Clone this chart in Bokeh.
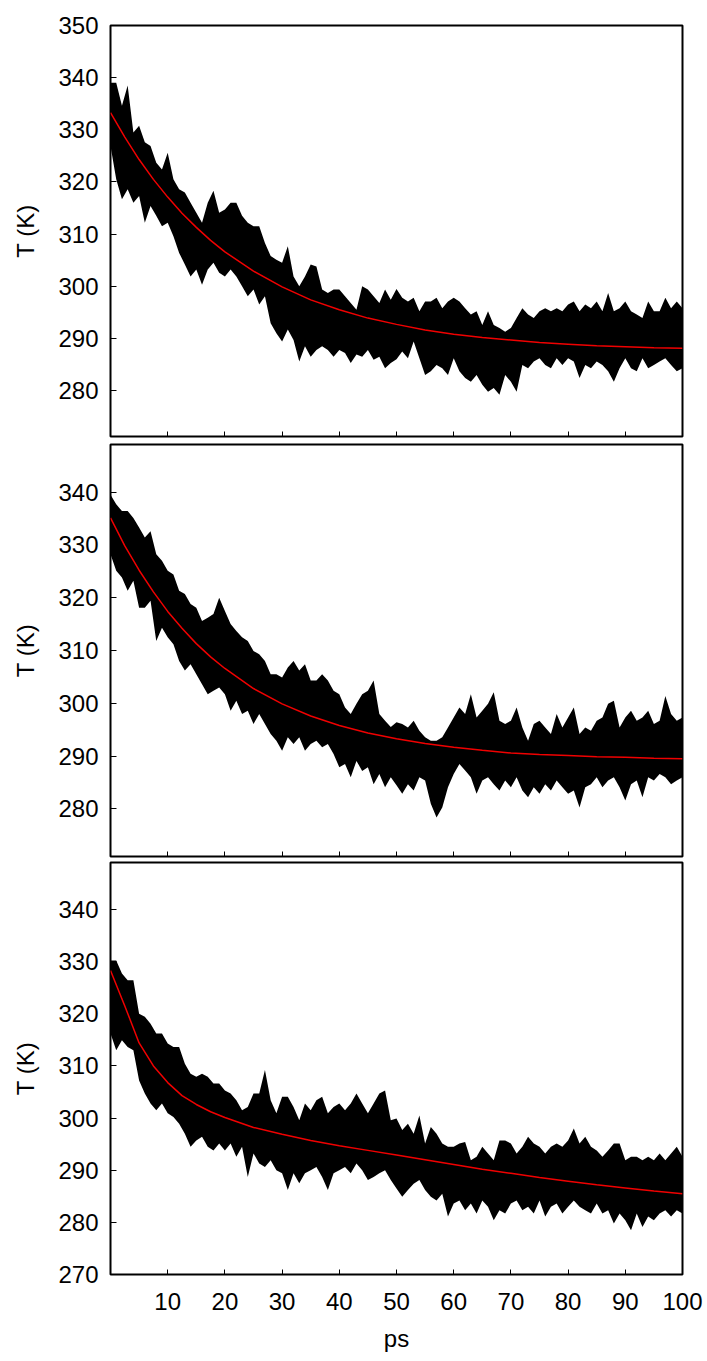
from bokeh.plotting import figure
from bokeh.layouts import column
from bokeh.models import Range1d, FixedTicker
from bokeh.embed import file_html
from bokeh.resources import INLINE

# time axis (ps) for the sampled envelope of the noisy trace
t = list(range(101))

# ---- panel 1 (top) : upper / lower envelope of the noisy T trace ----
hi1 = [339.0, 339.0, 334.6, 338.5, 329.5, 330.8, 327.6, 326.9, 323.7, 322.4,
       325.6, 320.5, 318.6, 318.0, 316.0, 314.1, 312.2, 316.0, 318.3, 314.1,
       314.7, 316.0, 316.0, 313.5, 312.2, 311.5, 311.5, 308.3, 305.8, 305.1,
       304.5, 307.7, 301.9, 300.0, 301.9, 304.2, 303.8, 299.4, 298.7, 299.4,
       299.4, 298.1, 296.8, 295.5, 300.0, 299.4, 298.1, 296.8, 299.4, 297.4,
       299.5, 297.8, 297.1, 297.8, 295.2, 297.1, 297.1, 297.8, 295.8, 297.1,
       297.8, 297.1, 295.8, 294.6, 295.2, 292.6, 295.2, 292.6, 292.0, 291.3,
       292.0, 293.9, 295.8, 294.6, 293.9, 295.2, 295.8, 295.2, 295.8, 295.2,
       296.5, 297.1, 295.2, 296.5, 295.8, 297.1, 295.2, 298.7, 295.2, 295.8,
       297.1, 295.2, 294.6, 293.9, 297.1, 295.2, 295.2, 297.8, 295.8, 297.1,
       295.8]
lo1 = [326.9, 320.5, 316.7, 318.6, 316.0, 317.3, 312.2, 315.4, 313.5, 311.5,
       312.2, 309.6, 306.4, 304.2, 301.9, 303.2, 300.3, 303.2, 304.5, 302.6,
       301.9, 303.2, 301.9, 300.0, 298.1, 299.4, 296.5, 298.1, 292.9, 291.0,
       289.4, 291.7, 289.7, 285.6, 288.5, 286.5, 287.8, 288.5, 287.8, 286.5,
       287.8, 287.2, 285.3, 286.9, 286.5, 287.8, 285.9, 286.5, 284.3, 285.3,
       286.0, 287.5, 286.2, 289.4, 286.2, 283.0, 283.7, 284.9, 284.3, 283.0,
       286.2, 283.7, 282.4, 281.7, 283.0, 281.1, 279.8, 280.5, 279.2, 283.0,
       281.7, 279.8, 284.9, 284.3, 285.6, 286.2, 284.9, 284.3, 286.2, 284.9,
       286.2, 285.6, 282.4, 284.9, 284.3, 285.6, 284.9, 283.7, 281.7, 284.3,
       286.2, 284.3, 283.7, 286.2, 284.3, 284.9, 285.6, 286.2, 284.9, 283.7,
       284.3]

# ---- panel 2 (middle) ----
hi2 = [339.5, 337.7, 336.4, 336.4, 335.1, 333.3, 331.4, 332.6, 328.2, 327.0,
       325.1, 324.4, 321.3, 320.7, 318.8, 318.1, 315.6, 316.2, 316.9, 320.0,
       317.5, 315.0, 313.7, 312.5, 311.8, 309.9, 309.3, 308.0, 305.5, 305.5,
       304.9, 306.8, 308.0, 306.2, 307.4, 304.3, 304.3, 305.5, 304.3, 302.4,
       301.7, 299.2, 298.0, 299.9, 301.7, 302.4, 304.3, 298.0, 296.7, 295.5,
       296.4, 296.1, 295.4, 296.7, 294.8, 293.6, 292.9, 292.9, 293.6, 295.4,
       297.3, 299.2, 298.0, 301.7, 297.3, 298.6, 299.9, 302.1, 296.7, 296.1,
       296.7, 299.2, 295.4, 292.9, 296.1, 296.7, 295.4, 294.2, 298.0, 295.4,
       297.3, 299.2, 294.2, 295.4, 294.8, 296.7, 297.3, 299.9, 300.5, 295.4,
       297.3, 298.6, 296.7, 297.3, 298.6, 296.1, 296.7, 301.4, 298.0, 296.7,
       297.3]
lo2 = [328.2, 325.1, 323.8, 321.3, 323.2, 318.1, 318.1, 319.4, 311.8, 314.3,
       312.5, 311.2, 308.0, 306.2, 307.4, 305.5, 303.6, 301.7, 302.4, 303.0,
       301.7, 298.6, 300.5, 298.0, 298.6, 296.1, 298.0, 296.1, 294.2, 292.9,
       291.0, 293.6, 292.3, 293.6, 291.0, 292.3, 292.9, 291.7, 292.3, 290.4,
       287.9, 288.5, 286.0, 289.1, 287.2, 287.9, 284.7, 286.6, 284.1, 286.0,
       284.5, 282.9, 284.7, 283.5, 286.0, 285.4, 281.0, 278.4, 280.3, 284.1,
       286.6, 288.5, 287.3, 286.0, 282.9, 285.4, 286.0, 284.7, 283.5, 285.4,
       284.1, 286.0, 283.5, 282.2, 284.1, 282.9, 284.7, 283.5, 285.4, 284.1,
       282.9, 283.5, 280.3, 284.1, 284.7, 286.0, 284.1, 285.4, 286.0, 284.1,
       281.6, 284.7, 285.4, 282.2, 286.0, 285.4, 286.6, 286.0, 284.7, 285.4,
       286.0]

# ---- panel 3 (bottom) ----
hi3 = [330.2, 330.2, 327.7, 326.4, 326.4, 320.0, 319.4, 318.1, 316.2, 316.2,
       314.3, 313.6, 313.6, 310.4, 308.5, 307.9, 308.5, 307.9, 306.6, 306.6,
       305.3, 304.7, 303.4, 301.5, 302.1, 304.7, 304.7, 309.2, 303.4, 300.9,
       304.1, 304.1, 302.1, 299.6, 302.8, 301.5, 303.4, 304.1, 300.9, 302.1,
       302.8, 301.5, 302.8, 304.7, 302.8, 300.9, 302.8, 304.7, 305.3, 299.6,
       299.9, 297.7, 298.9, 297.0, 300.5, 295.1, 298.3, 297.0, 295.1, 294.5,
       294.5, 295.1, 295.4, 291.9, 292.6, 294.5, 293.2, 291.9, 295.7, 295.7,
       295.1, 293.2, 294.5, 296.4, 295.1, 294.5, 293.2, 294.5, 295.1, 294.5,
       295.7, 298.0, 295.1, 296.4, 294.5, 293.8, 292.6, 293.8, 295.1, 295.1,
       291.9, 292.6, 292.6, 291.9, 292.6, 291.9, 293.2, 291.9, 293.2, 294.5,
       292.6]
lo3 = [316.2, 313.0, 314.9, 313.6, 313.0, 307.2, 304.7, 302.8, 301.5, 302.8,
       300.9, 300.2, 298.9, 297.0, 294.5, 295.7, 296.4, 294.5, 293.8, 295.1,
       293.8, 295.1, 292.6, 294.5, 288.7, 293.2, 291.3, 290.6, 291.9, 290.0,
       289.4, 286.2, 289.4, 287.5, 289.4, 290.0, 290.6, 288.7, 286.2, 289.4,
       290.0, 290.6, 289.4, 291.3, 290.0, 288.1, 288.7, 289.4, 290.0, 288.1,
       286.5, 284.9, 286.2, 287.4, 288.1, 286.2, 284.9, 284.2, 285.5, 281.1,
       283.6, 284.2, 282.3, 283.6, 281.7, 284.2, 283.0, 280.4, 282.3, 281.7,
       283.6, 284.2, 282.3, 283.0, 281.7, 284.2, 281.1, 283.0, 283.6, 281.7,
       283.0, 284.2, 283.0, 282.3, 281.7, 283.6, 281.7, 282.3, 279.8, 281.7,
       280.4, 278.5, 281.7, 279.1, 281.1, 280.4, 281.7, 282.3, 281.1, 282.3,
       281.7]

# ---- red fitted curves ----
fit_t = [0, 2.5, 5, 7.5, 10, 12.5, 15, 17.5, 20, 25, 30, 35, 40, 45, 50,
         55, 60, 65, 70, 75, 80, 85, 90, 95, 100]
fit1 = [333.3, 328.6, 324.3, 320.5, 317.1, 314.0, 311.3, 308.8, 306.6, 302.9,
        299.9, 297.4, 295.5, 293.9, 292.7, 291.6, 290.8, 290.2, 289.7, 289.2,
        288.9, 288.6, 288.4, 288.2, 288.1]
fit2 = [335.1, 329.8, 325.2, 321.1, 317.4, 314.2, 311.3, 308.8, 306.6, 302.8,
        299.9, 297.6, 295.8, 294.4, 293.3, 292.4, 291.7, 291.1, 290.6, 290.3,
        290.1, 289.9, 289.8, 289.6, 289.5]
fit3 = [328.3, 321.5, 314.4, 310.0, 306.8, 304.3, 302.6, 301.2, 300.1, 298.2,
        296.9, 295.7, 294.7, 293.8, 292.9, 292.0, 291.1, 290.2, 289.4, 288.6,
        287.9, 287.2, 286.6, 286.0, 285.5]

# ---- axes ----
x_ticks = [10, 20, 30, 40, 50, 60, 70, 80, 90, 100]
y_ticks1 = [280, 290, 300, 310, 320, 330, 340, 350]
y_ticks2 = [280, 290, 300, 310, 320, 330, 340]
y_ticks3 = [270, 280, 290, 300, 310, 320, 330, 340]
y_range1 = (271.2, 350)
y_range2 = (271, 349)
y_range3 = (270, 349)

FONT = "Liberation Sans"
FS = "24px"


def panel(hi, lo, fit, yr, yticks, height, top, bottom, last):
    p = figure(width=707, height=height,
               x_range=Range1d(0, 100), y_range=Range1d(*yr),
               output_backend="svg", toolbar_location=None,
               min_border_left=110, min_border_right=25,
               min_border_top=top, min_border_bottom=bottom)
    p.varea(x=t, y1=lo, y2=hi, fill_color="black")
    p.line(fit_t, fit, line_color="#f00000", line_width=1.5)
    p.grid.visible = False
    p.outline_line_color = "black"
    p.outline_line_width = 2
    p.background_fill_color = "white"
    p.border_fill_color = "white"

    ya = p.yaxis[0]
    ya.ticker = FixedTicker(ticks=yticks)
    ya.minor_tick_line_color = None
    ya.axis_line_color = None
    ya.major_tick_in = 6
    ya.major_tick_out = 0
    ya.major_tick_line_color = "black"
    ya.major_label_standoff = 12
    ya.major_label_text_font = FONT
    ya.major_label_text_font_size = FS
    ya.major_label_text_color = "black"
    ya.axis_label = "T (K)"
    ya.axis_label_text_font = FONT
    ya.axis_label_text_font_size = FS
    ya.axis_label_text_font_style = "normal"
    ya.axis_label_text_color = "black"
    ya.axis_label_standoff = 16

    xa = p.xaxis[0]
    xa.ticker = FixedTicker(ticks=x_ticks)
    xa.minor_tick_line_color = None
    xa.axis_line_color = None
    xa.major_tick_in = 5
    xa.major_tick_out = 0
    xa.major_tick_line_color = "black"
    if last:
        xa.major_label_standoff = 18
        xa.major_label_text_font = FONT
        xa.major_label_text_font_size = FS
        xa.major_label_text_color = "black"
        xa.axis_label = "ps"
        xa.axis_label_text_font = FONT
        xa.axis_label_text_font_size = FS
        xa.axis_label_text_font_style = "normal"
        xa.axis_label_text_color = "black"
        xa.axis_label_standoff = 12
    else:
        xa.major_label_overrides = {v: "" for v in x_ticks}
        xa.major_label_text_font_size = "0px"
        xa.major_label_standoff = 0
    return p


p1 = panel(hi1, lo1, fit1, y_range1, y_ticks1, 440, 25, 4, False)
p2 = panel(hi2, lo2, fit2, y_range2, y_ticks2, 418, 4, 2, False)
p3 = panel(hi3, lo3, fit3, y_range3, y_ticks3, 502, 4, 86, True)

layout = column(p1, p2, p3, spacing=0)
open("out.html", "w").write(file_html(layout, INLINE))
